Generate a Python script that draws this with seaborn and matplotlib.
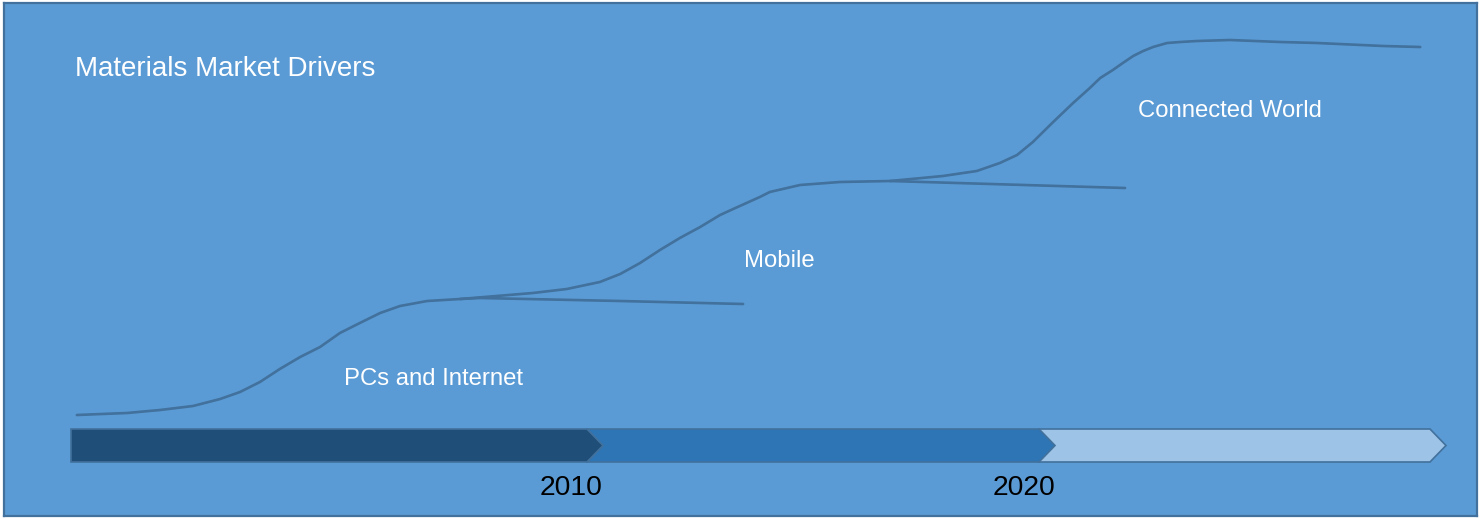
import matplotlib
matplotlib.use("Agg")
import matplotlib.pyplot as plt
import seaborn as sns

# --- data -------------------------------------------------------------
# Adoption curves for each market driver: (year, relative market level)
pcs_year = [1998.36, 1999.47, 2000.20, 2000.93, 2001.53, 2001.97, 2002.41, 2002.85,
            2003.30, 2003.74, 2004.18, 2004.62, 2005.07, 2005.51, 2006.11, 2006.84,
            2007.28, 2010.38, 2013.10]
pcs_level = [104, 106, 109, 113, 120, 127, 137, 150,
             162, 172, 186, 196, 206, 213, 218, 220,
             221, 218, 215]

mobile_year = [2006.84, 2008.45, 2009.20, 2009.93, 2010.38, 2010.82, 2011.26, 2011.70,
               2012.15, 2012.59, 2012.88, 2013.47, 2013.69, 2014.36, 2015.24, 2016.35,
               2021.55]
mobile_level = [220, 226, 230, 237, 245, 256, 269, 281,
                292, 304, 310, 322, 327, 334, 337, 338,
                331]

connected_year = [2016.35, 2017.52, 2018.27, 2018.78, 2019.16, 2019.51, 2019.96, 2020.40,
                  2020.77, 2021.00, 2021.28, 2021.50, 2021.73, 2021.95, 2022.17, 2022.48,
                  2022.77, 2023.14, 2023.87, 2024.98, 2025.80, 2027.26, 2028.08]
connected_level = [338, 343, 348, 356, 364, 377, 397, 416,
                   431, 441, 449, 456, 463, 468, 472, 476,
                   477, 478, 479, 477, 476, 473, 472]

# Timeline eras (bounds in years) and the year labels under the bar
era_names = ["PCs and Internet", "Mobile", "Connected World"]
era_bounds = [1998.23, 2010, 2020, 2028.65]
year_labels = ["2010", "2020"]

# --- style ------------------------------------------------------------
BG = "#5B9BD5"
EDGE = "#41719C"
LINE = "#41719C"
era_colors = ["#1F4E79", "#2E75B6", "#9DC3E6"]
FONT = ["Liberation Sans", "DejaVu Sans"]

W, H, DPI = 1480, 519, 100
fig = plt.figure(figsize=(W / DPI, H / DPI), dpi=DPI)
fig.patch.set_facecolor("white")

ax = fig.add_axes([4 / W, 3 / H, 1473 / W, 513 / H])
ax.set_facecolor(BG)
ax.set_xlim(1996.748, 2029.336)
ax.set_ylim(3, 516)
ax.set_xticks([])
ax.set_yticks([])
for s in ax.spines.values():
    s.set_color(EDGE)
    s.set_linewidth(1.6)

# --- adoption curves --------------------------------------------------
for xs, ys in [(pcs_year, pcs_level), (mobile_year, mobile_level),
               (connected_year, connected_level)]:
    sns.lineplot(x=xs, y=ys, ax=ax, color=LINE, linewidth=1.9,
                 estimator=None, sort=False, zorder=3,
                 solid_capstyle="round", solid_joinstyle="round")

# --- chevron timeline -------------------------------------------------
bar_lo, bar_hi = 57, 90
bar_mid = (bar_lo + bar_hi) / 2
depth = 0.354  # chevron point depth in years
for i in reversed(range(len(era_names))):
    x0 = era_bounds[i] - (depth if i > 0 else 0)
    x1 = era_bounds[i + 1]
    ax.fill([x0, x1 - depth, x1, x1 - depth, x0],
            [bar_lo, bar_lo, bar_mid, bar_hi, bar_hi],
            facecolor=era_colors[i], edgecolor=EDGE, linewidth=1.2,
            zorder=4 + (len(era_names) - i))

for lab, xb in zip(year_labels, era_bounds[1:3]):
    ax.text(xb, 24, lab, ha="right", va="baseline", color="black",
            fontsize=20.4, family=FONT, zorder=10)

# --- text -------------------------------------------------------------
ax.text(1998.32, 443, "Materials Market Drivers", ha="left", va="baseline",
        color="white", fontsize=20, family=FONT)
label_pos = [(2004.27, 134), (2013.12, 252), (2021.84, 402)]
for name, (lx, ly) in zip(era_names, label_pos):
    ax.text(lx, ly, name, ha="left", va="baseline", color="white",
            fontsize=17.2, family=FONT)

fig.savefig("out.png", dpi=DPI, facecolor=fig.get_facecolor())
